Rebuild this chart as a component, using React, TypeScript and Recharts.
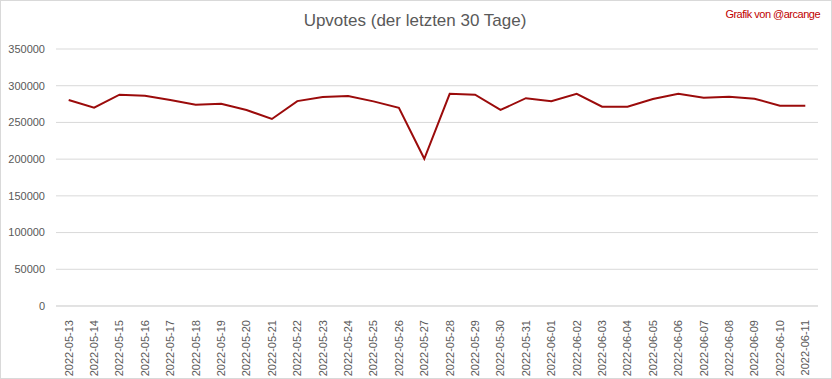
import { CartesianGrid, Line, LineChart, XAxis, YAxis } from 'recharts';

const days = [
  '2022-05-13', '2022-05-14', '2022-05-15', '2022-05-16', '2022-05-17', '2022-05-18',
  '2022-05-19', '2022-05-20', '2022-05-21', '2022-05-22', '2022-05-23', '2022-05-24',
  '2022-05-25', '2022-05-26', '2022-05-27', '2022-05-28', '2022-05-29', '2022-05-30',
  '2022-05-31', '2022-06-01', '2022-06-02', '2022-06-03', '2022-06-04', '2022-06-05',
  '2022-06-06', '2022-06-07', '2022-06-08', '2022-06-09', '2022-06-10', '2022-06-11',
];

const upvotes = [
  280500, 270000, 287800, 286400, 280500, 274000,
  275500, 267000, 254700, 279000, 284600, 286000,
  278700, 270000, 200500, 289000, 287800, 267000,
  283000, 279000, 289000, 271400, 271400, 282000,
  289000, 283700, 285000, 282300, 272800, 272800,
];

const yTicks = [0, 50000, 100000, 150000, 200000, 250000, 300000, 350000];

const data = days.map((day, i) => ({ day, upvotes: upvotes[i] }));

const font = '"Liberation Sans", Arial, sans-serif';

// rotated date labels, read bottom to top
const DateTick = (props: any) => {
  const { x, y, payload } = props;
  return (
    <text
      x={x}
      y={y + 6}
      transform={`rotate(-90, ${x}, ${y + 6})`}
      textAnchor="end"
      dy="0.35em"
      fontSize={11}
      fill="#595959"
      fontFamily={font}
    >
      {payload.value}
    </text>
  );
};

const App = () => (
  <div style={{ position: 'absolute', left: 0, top: 0, width: 832, height: 379, background: '#fff', fontFamily: font }}>
    <div style={{ position: 'absolute', left: 0, top: 11, width: 830, textAlign: 'center', fontSize: 17, color: '#595959' }}>
      Upvotes (der letzten 30 Tage)
    </div>
    <div style={{ position: 'absolute', right: 12, top: 8, fontSize: 11, letterSpacing: -0.5, color: '#c00000' }}>
      Grafik von @arcange
    </div>
    <LineChart width={832} height={379} data={data} margin={{ top: 49, right: 14, left: 0, bottom: 0 }}>
      <CartesianGrid vertical={false} stroke="#d9d9d9" />
      <XAxis
        dataKey="day"
        interval={0}
        height={73}
        padding={{ left: 12.7, right: 12.7 }}
        axisLine={{ stroke: '#d9d9d9' }}
        tickLine={false}
        tick={<DateTick />}
      />
      <YAxis
        width={56}
        domain={[0, 350000]}
        ticks={yTicks}
        interval={0}
        axisLine={false}
        tickLine={false}
        tickMargin={5}
        tick={{ fontSize: 11, fill: '#595959', fontFamily: font }}
      />
      <Line type="linear" dataKey="upvotes" stroke="#9b0b0b" strokeWidth={2} dot={false} isAnimationActive={false} />
    </LineChart>
    <div style={{ position: 'absolute', left: 0, top: 0, width: 832, height: 379, boxSizing: 'border-box', border: '1px solid #d9d9d9', pointerEvents: 'none' }} />
  </div>
);

export default App;
